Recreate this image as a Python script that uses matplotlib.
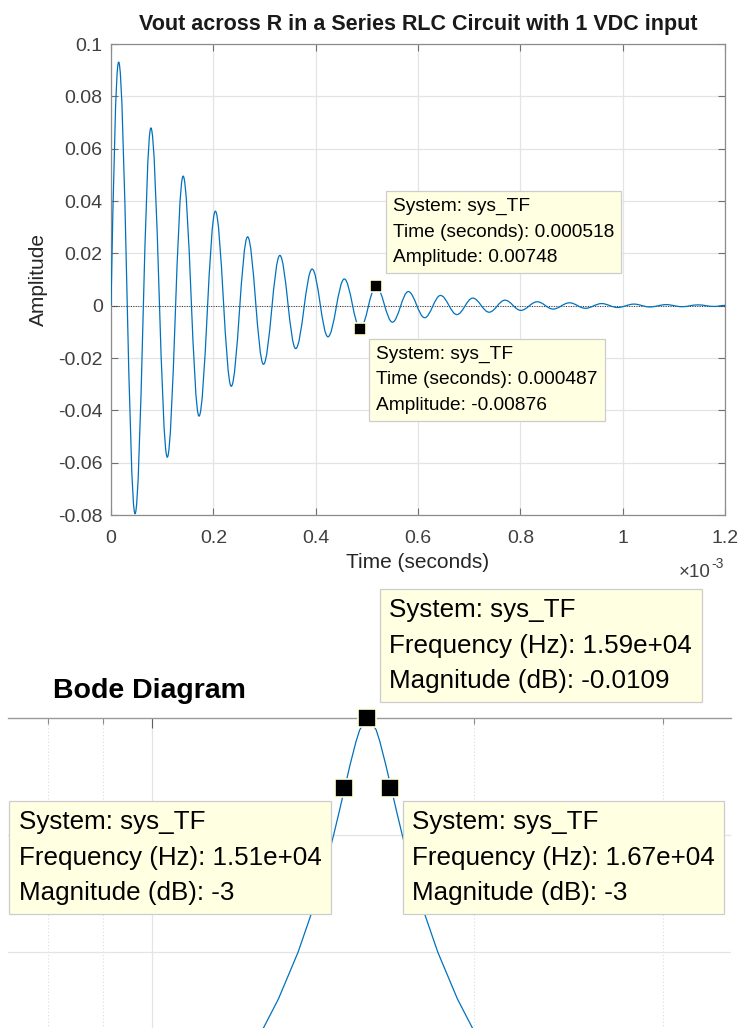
import matplotlib
matplotlib.use("Agg")
import matplotlib.pyplot as plt
from matplotlib.path import Path
from matplotlib.patches import PathPatch
from matplotlib.ticker import FixedLocator, FixedFormatter, NullFormatter

plt.rcParams["font.family"] = ["Liberation Sans", "DejaVu Sans"]
plt.rcParams["axes.unicode_minus"] = False

# step response: start, successive extrema, end
step_t_us = [0, 15, 47, 78, 110, 141, 172, 204, 235, 267, 298, 330, 361, 393,
             424, 456, 487, 518, 550, 581, 613, 644, 676, 707, 739, 770, 801,
             833, 864, 896, 927, 959, 990, 1022, 1053, 1085, 1116, 1147, 1179,
             1200]
step_amp = [0.0, 0.0931, -0.0795, 0.0679, -0.0579, 0.0495, -0.0422, 0.0361,
            -0.0308, 0.0263, -0.0224, 0.0192, -0.0164, 0.0140, -0.0119,
            0.0102, -0.00876, 0.00748, -0.0063, 0.0054, -0.0046, 0.0039,
            -0.0034, 0.0029, -0.0025, 0.0021, -0.0018, 0.0015, -0.0013,
            0.0011, -0.0010, 0.0008, -0.0007, 0.0006, -0.0005, 0.0004,
            -0.0004, 0.0003, -0.0003, 0.0001]

x_ticks = [0, 0.2e-3, 0.4e-3, 0.6e-3, 0.8e-3, 1.0e-3, 1.2e-3]
x_labels = ["0", "0.2", "0.4", "0.6", "0.8", "1", "1.2"]
y_ticks = [-0.08, -0.06, -0.04, -0.02, 0, 0.02, 0.04, 0.06, 0.08, 0.1]
y_labels = ["-0.08", "-0.06", "-0.04", "-0.02", "0", "0.02", "0.04", "0.06",
            "0.08", "0.1"]

# time datatips (t, amplitude)
tips_t = [0.000518, 0.000487]
tips_amp = [0.00748, -0.00876]

# bode magnitude around resonance (Hz, dB)
bode_f = [11694, 12465, 13129, 13696, 14179, 14594, 14782, 14962, 15137,
          15315, 15513, 15638, 15915, 16197, 16327, 16538, 16733, 16929,
          17135, 17356, 17864, 18494, 19292, 20320, 21659]
bode_db = [-16, -14, -12, -10, -8, -6, -5, -4, -3, -2, -1, -0.5, 0, -0.5, -1,
           -2, -3, -4, -5, -6, -8, -10, -12, -14, -16]
bode_tips_f = [1.59e4, 1.51e4, 1.67e4]
bode_tips_db = [-0.0109, -3, -3]

BLUE = "#0072BD"
TIP_FC = "#ffffe1"
TIP_EC = "#cdcdcd"
W, H = 741, 1028


def px(x0, y0, x1, y1):
    return [x0 / W, 1 - y1 / H, (x1 - x0) / W, (y1 - y0) / H]


def datatip(ax, x, y, text, dx, dy, size, ms, ls):
    ax.plot([x], [y], ls="none", marker="s", ms=ms, mfc="k", mec="#ffffe0",
            mew=1.2, clip_on=False, zorder=6)
    ax.annotate(text, xy=(x, y), xytext=(dx, dy), textcoords="offset pixels",
                ha="left", va="top", fontsize=size, linespacing=ls,
                color="k", zorder=7, annotation_clip=False,
                bbox=dict(boxstyle="square,pad=0.36", fc=TIP_FC, ec=TIP_EC,
                          lw=0.9))


fig = plt.figure(figsize=(W / 100, H / 100), dpi=100)

# ---------------- step response ----------------
ax = fig.add_axes(px(111, 44, 725, 515))
ax.set_xlim(0, 1.2e-3)
ax.set_ylim(-0.08, 0.1)

t = [v * 1e-6 for v in step_t_us]
a = step_amp
k = 0.3634
verts = [(t[0], a[0])]
codes = [Path.MOVETO]
d = t[1] - t[0]
verts += [(t[0] + d / 3, a[1] * 0.52), (t[1] - 0.38 * d, a[1]), (t[1], a[1])]
codes += [Path.CURVE4] * 3
for i in range(1, len(t) - 1):
    d = t[i + 1] - t[i]
    verts += [(t[i] + k * d, a[i]), (t[i + 1] - k * d, a[i + 1]),
              (t[i + 1], a[i + 1])]
    codes += [Path.CURVE4] * 3
ax.add_patch(PathPatch(Path(verts, codes), fill=False, ec=BLUE, lw=0.9,
                       zorder=3))
ax.axhline(0, color="#303030", ls=(0, (1, 1.5)), lw=0.7, zorder=2)

ax.xaxis.set_major_locator(FixedLocator(x_ticks))
ax.xaxis.set_major_formatter(FixedFormatter(x_labels))
ax.yaxis.set_major_locator(FixedLocator(y_ticks))
ax.yaxis.set_major_formatter(FixedFormatter(y_labels))
ax.grid(True, color="#e4e4e4", lw=0.9)
ax.set_axisbelow(True)
for s in ax.spines.values():
    s.set_color("#8c8c8c")
    s.set_linewidth(0.9)
ax.tick_params(direction="in", length=5, width=0.8, top=True, right=True,
               color="#707070", labelcolor="#404040", labelsize=14)
ax.tick_params(axis="x", pad=11)
ax.tick_params(axis="y", pad=6)
ax.set_title("Vout across R in a Series RLC Circuit with 1 VDC input",
             fontsize=15.5, fontweight="bold", color="#1a1a1a", pad=10)
ax.set_xlabel("Time (seconds)", fontsize=15, color="#262626")
ax.set_ylabel("Amplitude", fontsize=15, color="#262626")
ax.xaxis.set_label_coords(0.5, -0.1)
ax.xaxis.label.set_va("center")
ax.yaxis.set_label_coords(-0.118, 0.5)
ax.yaxis.label.set_va("center")
fig.text(711 / W, 1 - 577 / H, "\u00d710", ha="right", va="baseline",
         fontsize=13.5, color="#404040")
fig.text(711 / W, 1 - 568 / H, "-3", ha="left", va="baseline",
         fontsize=10, color="#404040")

datatip(ax, tips_t[0], tips_amp[0],
        "System: sys_TF\nTime (seconds): 0.000518\nAmplitude: 0.00748",
        17, 88, 13.8, 9, 1.65)
datatip(ax, tips_t[1], tips_amp[1],
        "System: sys_TF\nTime (seconds): 0.000487\nAmplitude: -0.00876",
        16, -17, 13.8, 9, 1.65)

# ---------------- bode magnitude (zoomed) ----------------
bx = fig.add_axes(px(8, 718, 731, 1186))
bx.set_xscale("log")
bx.set_xlim(7336, 34760)
bx.set_ylim(-20, 0)
bx.plot(bode_f, bode_db, color=BLUE, lw=0.9, clip_on=False, zorder=3)

bx.xaxis.set_major_locator(FixedLocator([1e4]))
bx.xaxis.set_minor_locator(FixedLocator([8e3, 9e3, 2e4, 3e4]))
bx.xaxis.set_major_formatter(NullFormatter())
bx.xaxis.set_minor_formatter(NullFormatter())
bx.yaxis.set_major_locator(FixedLocator([-15, -10, -5]))
bx.yaxis.set_major_formatter(NullFormatter())
bx.grid(True, which="major", color="#e4e4e4", lw=0.9)
bx.grid(True, which="minor", axis="x", color="#dcdcdc", lw=0.8,
        ls=(0, (1, 2)))
bx.set_axisbelow(True)
for name, s in bx.spines.items():
    s.set_visible(name == "top")
bx.spines["top"].set_color("#9a9a9a")
bx.spines["top"].set_linewidth(1.0)
bx.xaxis.set_ticks_position("top")
bx.tick_params(axis="x", which="major", direction="in", length=7, width=0.8,
               color="#606060")
bx.tick_params(axis="x", which="minor", direction="in", length=4, width=0.8,
               color="#8c8c8c")
bx.tick_params(axis="y", length=0)
fig.text(53 / W, 1 - 698 / H, "Bode Diagram", ha="left", va="baseline",
         fontsize=20.5, fontweight="bold", color="k")

datatip(bx, bode_tips_f[0], bode_tips_db[0],
        "System: sys_TF\nFrequency (Hz): 1.59e+04\nMagnitude (dB): -0.0109",
        22, 120, 18.7, 13, 1.6)
datatip(bx, bode_tips_f[1], bode_tips_db[1],
        "System: sys_TF\nFrequency (Hz): 1.51e+04\nMagnitude (dB): -3",
        -325, -22, 18.7, 13, 1.6)
datatip(bx, bode_tips_f[2], bode_tips_db[2],
        "System: sys_TF\nFrequency (Hz): 1.67e+04\nMagnitude (dB): -3",
        22, -22, 18.7, 13, 1.6)

fig.savefig("out.png", dpi=100)
